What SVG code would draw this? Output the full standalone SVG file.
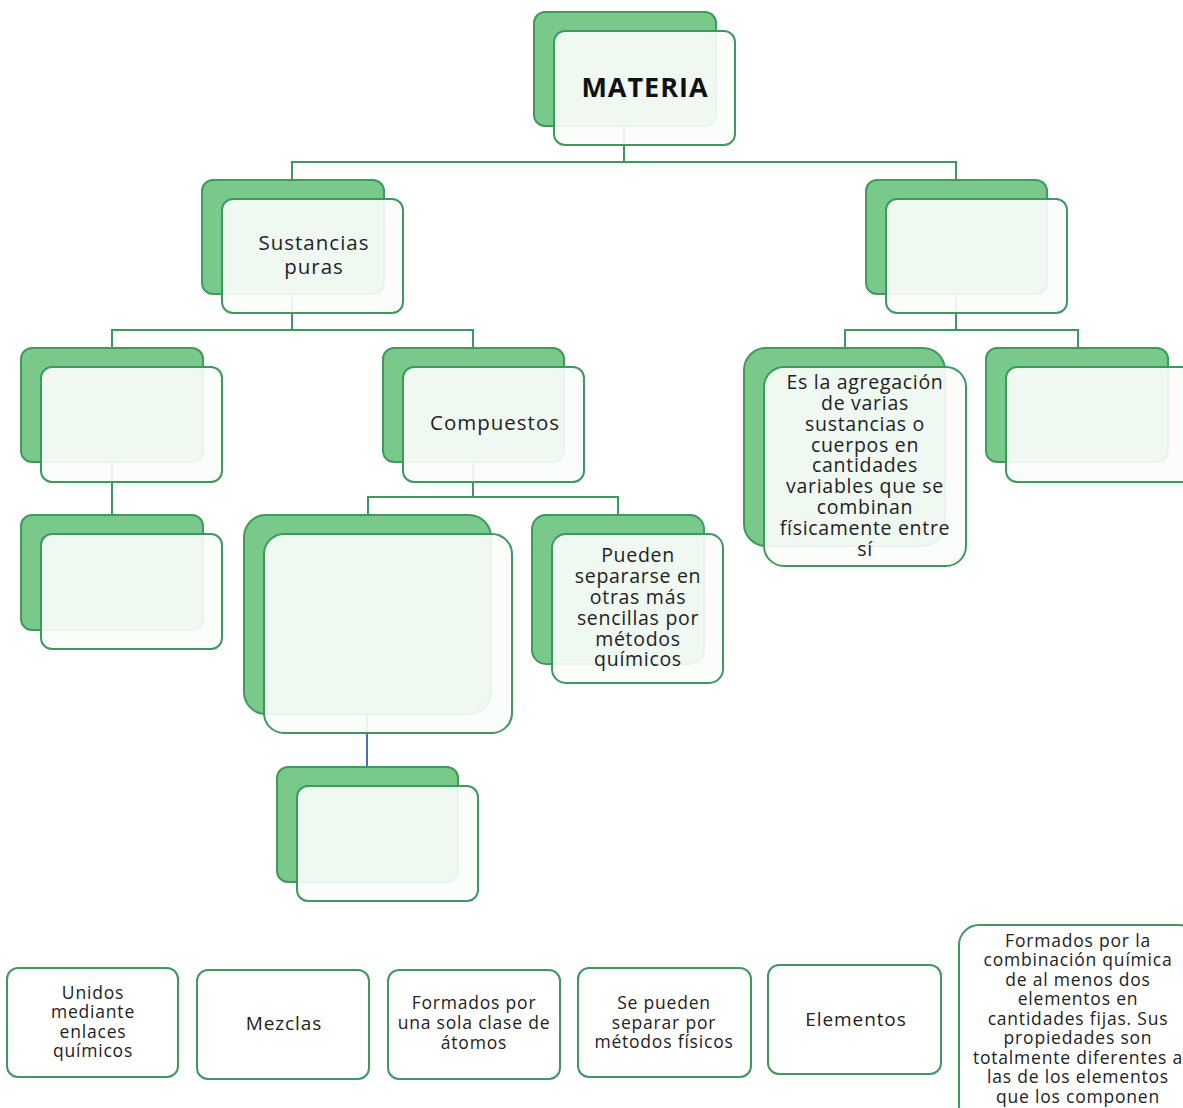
<svg xmlns="http://www.w3.org/2000/svg" width="1183" height="1108" viewBox="0 0 1183 1108">
<style>
.bk{fill:#79c98b;stroke:#3f9a5c;stroke-width:2}
.fr{fill:#fbfdfb;fill-opacity:0.91;stroke:#3d9960;stroke-width:2}
.bx{fill:#ffffff;stroke:#3d9960;stroke-width:2}
.c{fill:none;stroke:#3d9960;stroke-width:2}
.cb{fill:none;stroke:#4a6fc0;stroke-width:2}
text{font-family:"Open Sans","Liberation Sans",sans-serif;fill:#222;text-anchor:middle}
.L{font-size:20.5px;letter-spacing:1px}
.m{font-size:19px;letter-spacing:0.9px}
.t{font-size:19.5px;letter-spacing:0.7px}
.s{font-size:17.5px;letter-spacing:0.8px}
.h{font-size:27px;font-weight:bold;fill:#111;letter-spacing:1px}
</style>
<g id="connectors">
<path class="c" d="M624,126 V162 M292,180 V162 H956 V180"/>
<path class="c" d="M292,294 V330 M112,348 V330 H473 V348"/>
<path class="c" d="M956,294 V330 M845,348 V330 H1078 V348"/>
<path class="c" d="M112,462 V515"/>
<path class="c" d="M473,462 V497 M368,515 V497 H618 V515"/>
<path class="cb" d="M367,714 V767"/>
</g>
<g id="materia">
<rect class="bk" x="534" y="12" width="182" height="114" rx="11"/>
<rect class="fr" x="554" y="31" width="181" height="114" rx="11"/>
<text class="h" x="645" y="97">MATERIA</text>
</g>
<g id="sustancias">
<rect class="bk" x="202" y="180" width="182" height="114" rx="11"/>
<rect class="fr" x="222" y="199" width="181" height="114" rx="11"/>
<text class="L" x="314" y="250">Sustancias</text>
<text class="L" x="314" y="274">puras</text>
</g>
<g id="mezclas-node">
<rect class="bk" x="866" y="180" width="181" height="114" rx="11"/>
<rect class="fr" x="886" y="199" width="181" height="114" rx="11"/>
</g>
<g id="elementos-node">
<rect class="bk" x="21" y="348" width="182" height="114" rx="11"/>
<rect class="fr" x="41" y="367" width="181" height="115" rx="11"/>
</g>
<g id="elementos-desc">
<rect class="bk" x="21" y="515" width="182" height="115" rx="11"/>
<rect class="fr" x="41" y="534" width="181" height="115" rx="11"/>
</g>
<g id="compuestos">
<rect class="bk" x="383" y="348" width="181" height="114" rx="11"/>
<rect class="fr" x="403" y="367" width="181" height="115" rx="11"/>
<text class="L" x="495" y="430">Compuestos</text>
</g>
<g id="compuestos-desc">
<rect class="bk" x="244" y="515" width="247" height="199" rx="22"/>
<rect class="fr" x="264" y="534" width="248" height="199" rx="20"/>
</g>
<g id="pueden">
<rect class="bk" x="532" y="515" width="172" height="149" rx="14"/>
<rect class="fr" x="552" y="534" width="171" height="149" rx="14"/>
<text class="t" x="638" y="562">Pueden</text>
<text class="t" x="638" y="583">separarse en</text>
<text class="t" x="638" y="604">otras más</text>
<text class="t" x="638" y="625">sencillas por</text>
<text class="t" x="638" y="646">métodos</text>
<text class="t" x="638" y="666">químicos</text>
</g>
<g id="unidos-node">
<rect class="bk" x="277" y="767" width="181" height="115" rx="11"/>
<rect class="fr" x="297" y="786" width="181" height="115" rx="11"/>
</g>
<g id="agregacion">
<rect class="bk" x="744" y="348" width="201" height="198" rx="22"/>
<rect class="fr" x="764" y="367" width="202" height="199" rx="20"/>
<text class="t" x="865" y="389">Es la agregación</text>
<text class="t" x="865" y="410">de varias</text>
<text class="t" x="865" y="431">sustancias o</text>
<text class="t" x="865" y="452">cuerpos en</text>
<text class="t" x="865" y="472">cantidades</text>
<text class="t" x="865" y="493">variables que se</text>
<text class="t" x="865" y="514">combinan</text>
<text class="t" x="865" y="535">físicamente entre</text>
<text class="t" x="865" y="556">sí</text>
</g>
<g id="right-node">
<rect class="bk" x="986" y="348" width="182" height="114" rx="11"/>
<rect class="fr" x="1006" y="367" width="190" height="115" rx="11"/>
</g>
<g id="b1">
<rect class="bx" x="7" y="968" width="171" height="109" rx="11"/>
<text class="s" x="93" y="999">Unidos</text>
<text class="s" x="93" y="1018">mediante</text>
<text class="s" x="93" y="1038">enlaces</text>
<text class="s" x="93" y="1057">químicos</text>
</g>
<g id="b2">
<rect class="bx" x="197" y="970" width="172" height="109" rx="11"/>
<text class="m" x="284" y="1030">Mezclas</text>
</g>
<g id="b3">
<rect class="bx" x="388" y="970" width="172" height="109" rx="11"/>
<text class="s" x="474" y="1009">Formados por</text>
<text class="s" x="474" y="1029">una sola clase de</text>
<text class="s" x="474" y="1049">átomos</text>
</g>
<g id="b4">
<rect class="bx" x="578" y="968" width="173" height="109" rx="11"/>
<text class="s" x="664" y="1009">Se pueden</text>
<text class="s" x="664" y="1029">separar por</text>
<text class="s" x="664" y="1048">métodos físicos</text>
</g>
<g id="b5">
<rect class="bx" x="768" y="965" width="173" height="109" rx="11"/>
<text class="m" x="856" y="1026">Elementos</text>
</g>
<g id="b6">
<rect class="bx" x="959" y="925" width="240" height="200" rx="20"/>
<text class="s" x="1078" y="947">Formados por la</text>
<text class="s" x="1078" y="966">combinación química</text>
<text class="s" x="1078" y="986">de al menos dos</text>
<text class="s" x="1078" y="1005">elementos en</text>
<text class="s" x="1078" y="1025">cantidades fijas. Sus</text>
<text class="s" x="1078" y="1044">propiedades son</text>
<text class="s" x="1078" y="1064">totalmente diferentes a</text>
<text class="s" x="1078" y="1083">las de los elementos</text>
<text class="s" x="1078" y="1103">que los componen</text>
</g>
</svg>
